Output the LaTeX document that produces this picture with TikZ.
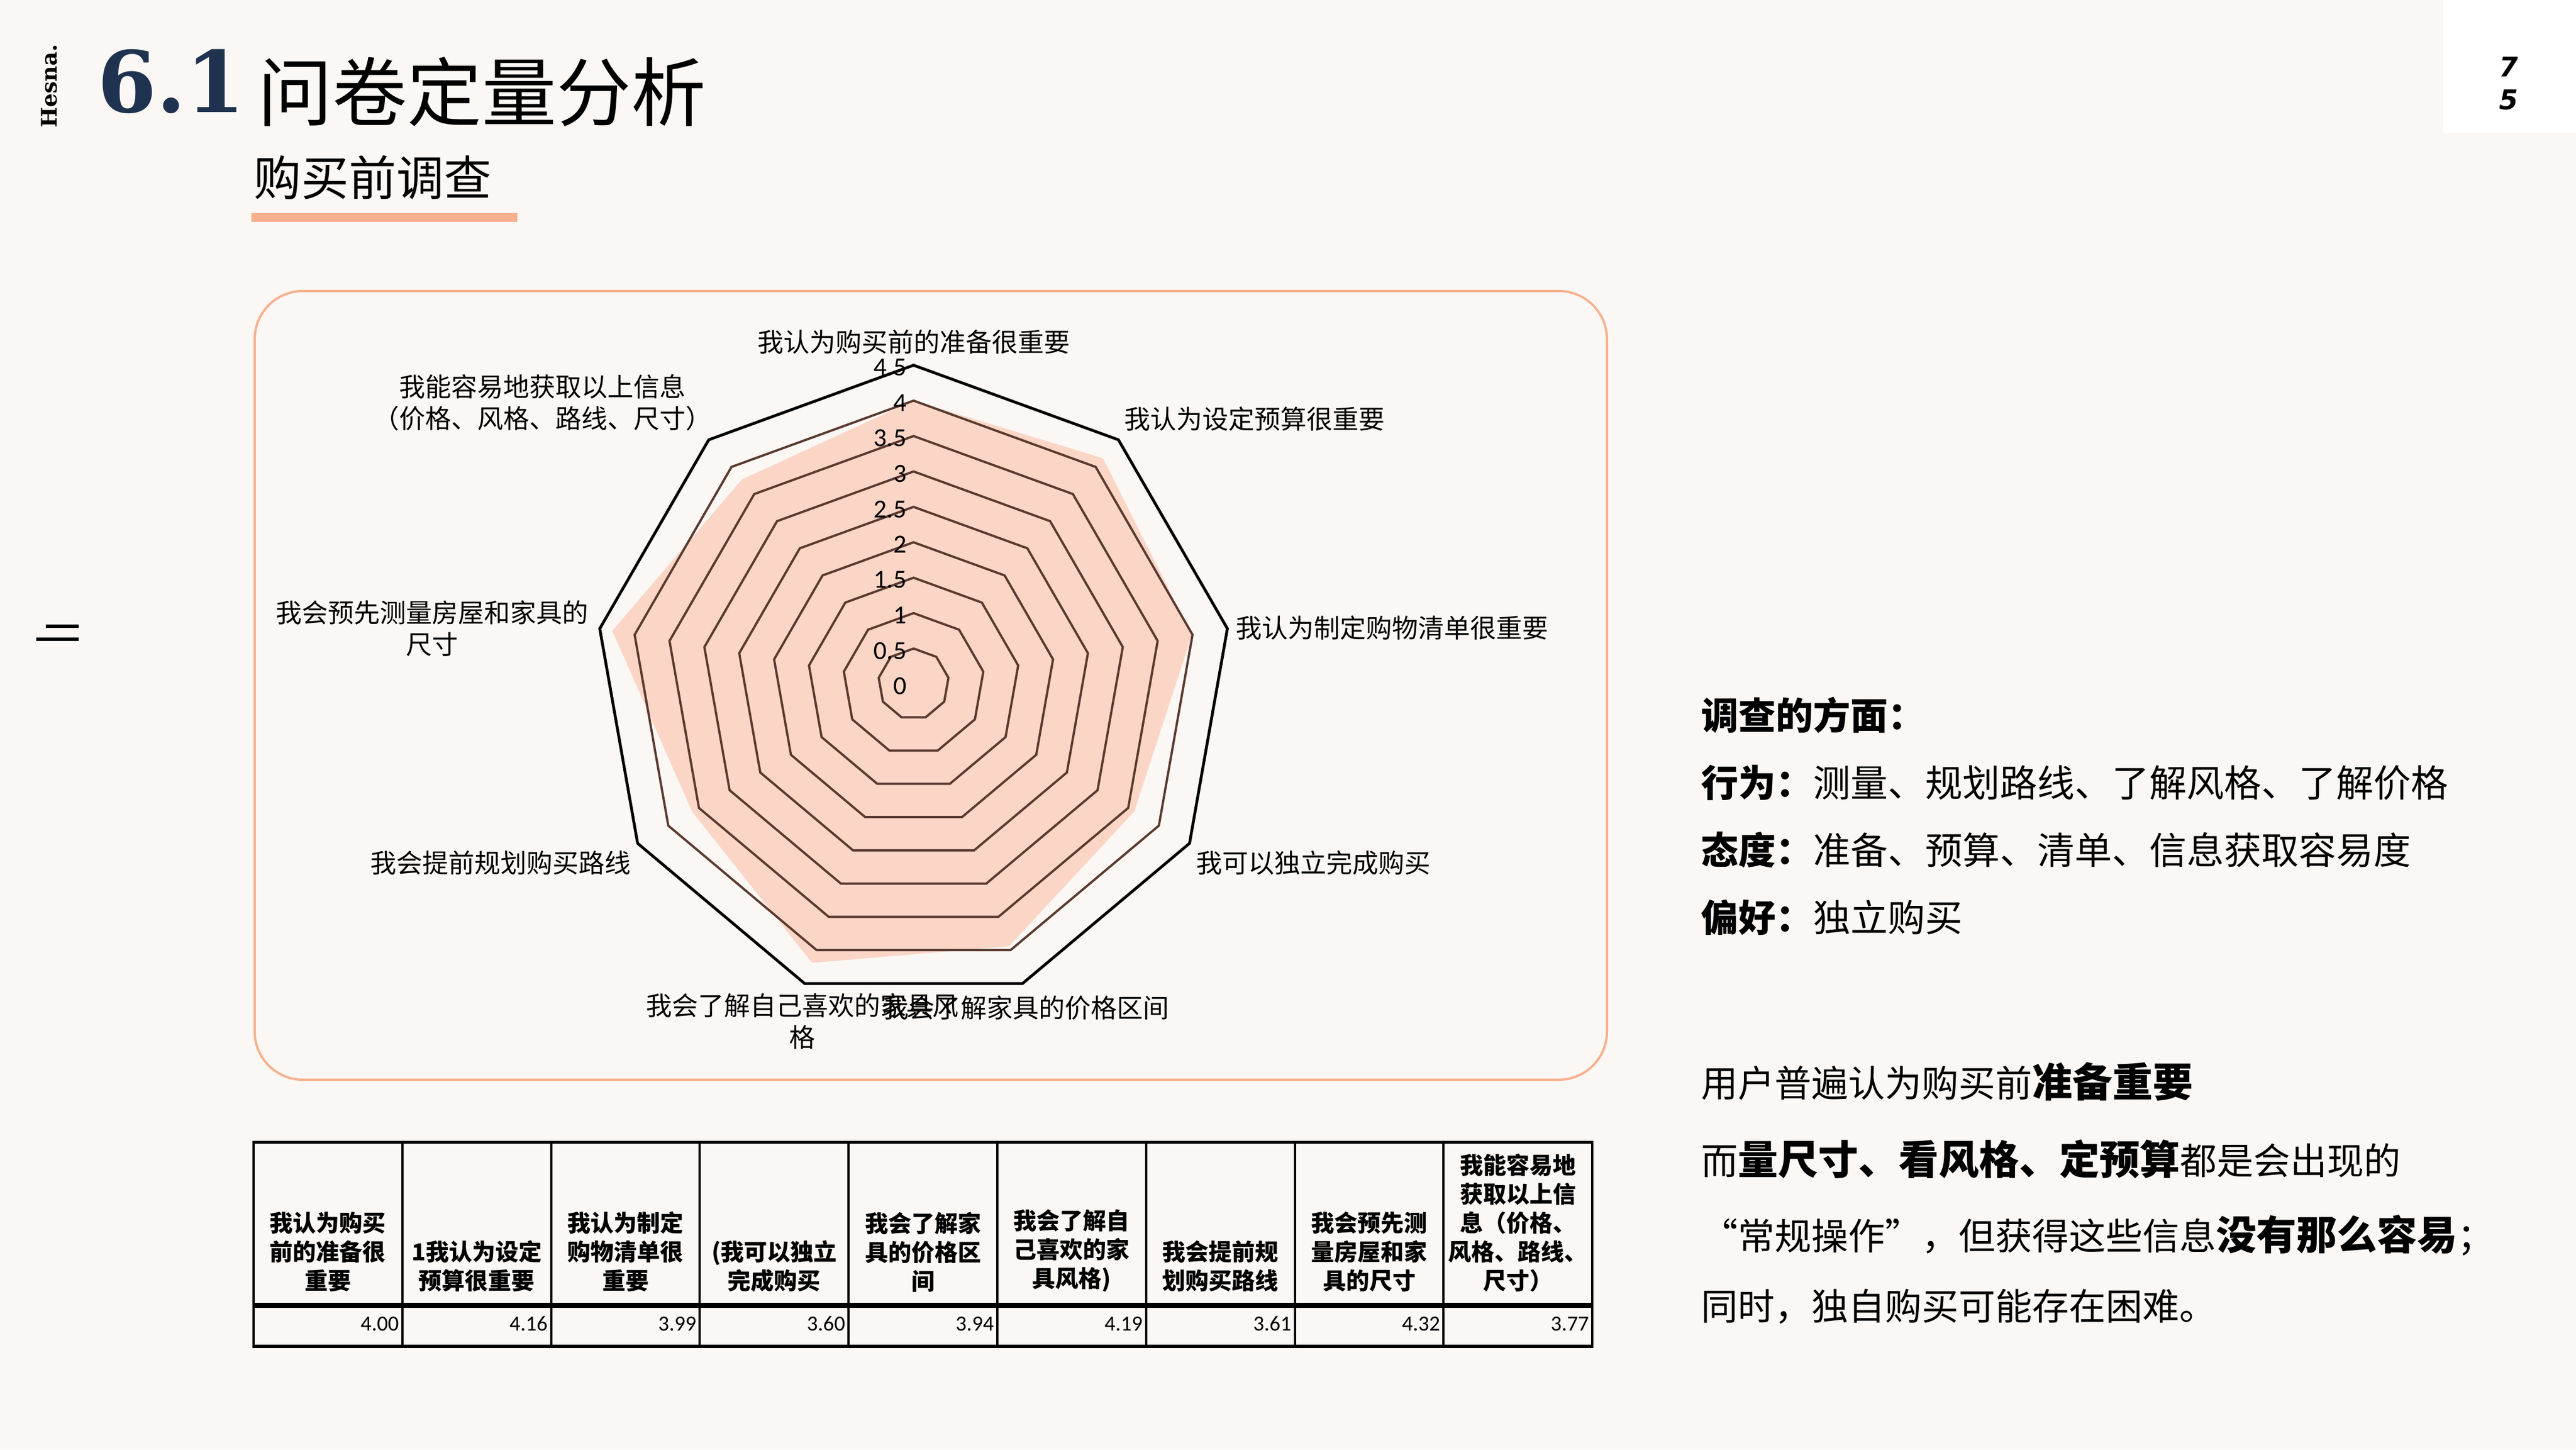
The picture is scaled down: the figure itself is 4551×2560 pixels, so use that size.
\documentclass[tikz,border=0pt]{standalone}
\usepackage{fontspec}
\setmainfont{Noto Sans CJK SC}
\newfontfamily\numfont{Carlito}
\newfontfamily\serifb{DejaVu Serif}
\newfontfamily\pagefont{DejaVu Sans}
\usetikzlibrary{calc}
\definecolor{bg}{HTML}{FAF7F4}
\definecolor{navy}{HTML}{1F3350}
\definecolor{accent}{HTML}{F8B08D}
\definecolor{datafill}{HTML}{FBD6C6}
\definecolor{gridc}{HTML}{5A3A30}
\tikzset{
  axlab/.style={font=\fontsize{46}{56}\selectfont, inner sep=0pt, align=center},
  ticklab/.style={font=\numfont\fontsize{46}{48}\selectfont, inner sep=0pt, anchor=east},
  hdr/.style={font=\bfseries\fontsize{41}{51}\selectfont, inner sep=0pt, align=center, anchor=south},
  val/.style={font=\numfont\fontsize{38}{40}\selectfont, inner sep=0pt, anchor=east},
  rtxt/.style={font=\fontsize{66}{76}\selectfont, inner sep=0pt, anchor=west},
  btxt/.style={font=\fontsize{65}{77}\selectfont, inner sep=0pt, anchor=west},
}
\begin{document}
\begin{tikzpicture}[x=1pt,y=-1pt]
\fill[bg] (0,0) rectangle (4551,2560);
\useasboundingbox (0,0) rectangle (4551,2560);
% header
\node[rotate=90, font=\serifb\bfseries\fontsize{38}{40}\selectfont, inner sep=0pt] (brand) at (87,152) {Hesna.};
\node[font=\serifb\bfseries\fontsize{150}{160}\selectfont, text=navy, inner sep=0pt, anchor=base west] (num) at (172,198) {6.1};
\node[font=\fontsize{132}{140}\selectfont, inner sep=0pt, anchor=base west] (title) at (455,212) {问卷定量分析};
\node[font=\fontsize{84}{90}\selectfont, inner sep=0pt, anchor=base west] (sub) at (448,345) {购买前调查};
\fill[accent] (444,376) rectangle (914,392);
% page number box
\fill[white] (4316,0) rectangle (4551,235);
\node[font=\pagefont\bfseries\itshape\fontsize{48}{50}\selectfont, inner sep=0pt] (p7) at (4432,118) {7};
\node[font=\pagefont\bfseries\itshape\fontsize{48}{50}\selectfont, inner sep=0pt] (p5) at (4432,176) {5};
% icon
\draw[line width=6pt] (81,1106) -- (139,1106);
\draw[line width=6pt] (64,1129) -- (139,1129);
% chart panel
\draw[accent, line width=4pt, fill=bg, rounded corners=85pt] (450,514) rectangle (2839,1907);
\def\U{125.1}
\coordinate (C) at (1614,1208);
\foreach \l in {1,...,9}{
  \foreach \i in {0,...,8}{
    \coordinate (g\l-\i) at ($(C)+({sin(40*\i)*\l*0.5*\U},{-cos(40*\i)*\l*0.5*\U})$);
  }
}
\foreach \v [count=\i from 0] in {4.00,4.16,3.99,3.60,3.94,4.19,3.61,4.32,3.77}{
  \coordinate (d\i) at ($(C)+({sin(40*\i)*\v*\U},{-cos(40*\i)*\v*\U})$);
}
\fill[datafill] (d0) foreach \i in {1,...,8}{ -- (d\i)} -- cycle;
\foreach \l in {1,...,8}{
  \draw[gridc, line width=4pt, line join=miter] (g\l-0) foreach \i in {1,...,8}{ -- (g\l-\i)} -- cycle;
}
\draw[black, line width=5pt, line join=miter] (g9-0) foreach \i in {1,...,8}{ -- (g9-\i)} -- cycle;
\foreach \t [count=\k from 0] in {0,0.5,1,1.5,2,2.5,3,3.5,4,4.5}{
  \node[ticklab] (t\k) at ($(C)+(-12,{-\k*0.5*\U+4})$) {\t};
}
% axis labels
\node[axlab] (a0) at (1614,604) {我认为购买前的准备很重要};
\node[axlab, anchor=west] (a1) at (1986,740) {我认为设定预算很重要};
\node[axlab, anchor=west] (a2) at (2183,1109) {我认为制定购物清单很重要};
\node[axlab, anchor=west] (a3) at (2113,1524) {我可以独立完成购买};
\node[axlab, anchor=west] (a4) at (1559,1780) {我会了解家具的价格区间};
\node[axlab, anchor=north] (a5) at (1417,1754) {我会了解自己喜欢的家具风\\格};
\node[axlab, anchor=east] (a6) at (1115,1524) {我会提前规划购买路线};
\node[axlab] (a7) at (763,1110) {我会预先测量房屋和家具的\\尺寸};
\node[axlab] (a8) at (958,711) {我能容易地获取以上信息\\（价格、风格、路线、尺寸）};
% table
\def\cw{262.8}
\foreach \j in {0,...,9}{
  \draw[line width=4pt] ({448+\j*\cw},2017) -- ({448+\j*\cw},2380);
}
\draw[line width=5pt] (446,2017) -- (2815,2017);
\draw[line width=9pt] (446,2305) -- (2815,2305);
\draw[line width=6pt] (446,2378) -- (2815,2378);
\foreach \h [count=\j from 0] in {
  {我认为购买\\前的准备很\\重要},
  {1我认为设定\\预算很重要},
  {我认为制定\\购物清单很\\重要},
  {(我可以独立\\完成购买},
  {我会了解家\\具的价格区\\间},
  {我会了解自\\己喜欢的家\\具风格)},
  {我会提前规\\划购买路线},
  {我会预先测\\量房屋和家\\具的尺寸},
  {我能容易地\\获取以上信\\息（价格、\\风格、路线、\\尺寸）}}{
  \node[hdr] (h\j) at ({448+(\j+0.5)*\cw},2282) {\h};
}
\foreach \v [count=\j from 0] in {4.00,4.16,3.99,3.60,3.94,4.19,3.61,4.32,3.77}{
  \node[val] (v\j) at ({448+(\j+1)*\cw-6},2338) {\v};
}
% right text
\node[rtxt] (r0) at (3005,1263) {\bfseries 调查的方面：};
\node[rtxt] (r1) at (3005,1382) {\textbf{行为：}测量、规划路线、了解风格、了解价格};
\node[rtxt] (r2) at (3005,1501) {\textbf{态度：}准备、预算、清单、信息获取容易度};
\node[rtxt] (r3) at (3005,1620) {\textbf{偏好：}独立购买};
\node[btxt] (b0) at (3005,1910) {用户普遍认为购买前{\bfseries\fontsize{71}{80}\selectfont 准备重要}};
\node[btxt] (b1) at (3005,2047) {而{\bfseries\fontsize{71}{80}\selectfont 量尺寸、看风格、定预算}都是会出现的};
\node[btxt] (b2) at (3005,2182) {“常规操作”，但获得这些信息{\bfseries\fontsize{71}{80}\selectfont 没有那么容易}；};
\node[btxt] (b3) at (3005,2308) {同时，独自购买可能存在困难。};
\end{tikzpicture}
\end{document}
